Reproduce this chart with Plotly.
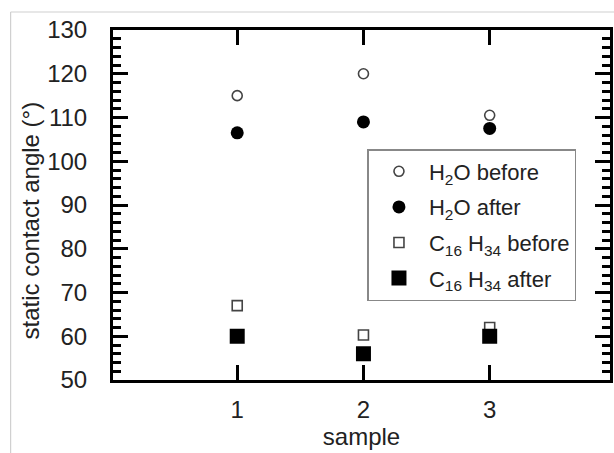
import plotly.graph_objects as go

samples = [1, 2, 3]
h2o_before = [115, 120, 110.5]
h2o_after = [106.5, 109, 107.5]
c16_before = [67, 60.3, 62]
c16_after = [60, 56, 60]

names = ["H<sub>2</sub>O before", "H<sub>2</sub>O after",
         "C<sub>16</sub> H<sub>34</sub> before", "C<sub>16</sub> H<sub>34</sub> after"]
y_title = "static contact angle (°)"
x_title = "sample"

W, H = 614, 453
L, R, T, B = 113, 613, 30, 380  # plot area pixel box

FAM = "Liberation Sans, Arial, sans-serif"

fig = go.Figure()
fig.add_trace(go.Scatter(x=samples, y=h2o_before, mode="markers", name=names[0], legendgroup="a",
                         marker=dict(symbol="circle-open", size=10, color="#444",
                                     line=dict(width=1.6, color="#444"))))
fig.add_trace(go.Scatter(x=samples, y=h2o_after, mode="markers", name=names[1], legendgroup="b",
                         marker=dict(symbol="circle", size=13, color="black")))
fig.add_trace(go.Scatter(x=samples, y=c16_before, mode="markers", name=names[2], legendgroup="c",
                         marker=dict(symbol="square-open", size=10, color="#444",
                                     line=dict(width=1.6, color="#444"))))
fig.add_trace(go.Scatter(x=samples, y=c16_after, mode="markers", name=names[3], legendgroup="d",
                         marker=dict(symbol="square", size=15, color="black")))

font = dict(family=FAM, size=24, color="#222")

def px_to_paper_x(px):
    return (px - L) / (R - L)

def px_to_paper_y(py):
    return (B - py) / (B - T)

fig.update_layout(
    width=W, height=H,
    margin=dict(l=L, r=W - R, t=T, b=H - B, pad=0),
    paper_bgcolor="white", plot_bgcolor="white",
    font=font,
    showlegend=True,
    legend=dict(x=px_to_paper_x(369), y=px_to_paper_y(149), xanchor="left", yanchor="top",
                bordercolor="#888", borderwidth=1.5, bgcolor="white",
                font=dict(family=FAM, size=22, color="#222"),
                itemsizing="trace", itemwidth=50, tracegroupgap=4),
    xaxis=dict(range=[0.016, 3.953], tickvals=samples, ticktext=[str(s) for s in samples],
               showgrid=False, zeroline=False, showline=True, linewidth=3, linecolor="black",
               mirror="ticks", ticks="inside", ticklen=15, tickwidth=3, tickcolor="black",
               ticklabelstandoff=6,
               title=dict(text=x_title, standoff=6, font=font)),
    yaxis=dict(range=[50, 130], tickvals=[50, 60, 70, 80, 90, 100, 110, 120, 130],
               showgrid=False, zeroline=False, showline=True, linewidth=3, linecolor="black",
               mirror="ticks", ticks="inside", ticklen=15, tickwidth=3, tickcolor="black",
               ticklabelstandoff=18,
               minor=dict(dtick=2, tick0=0, ticks="inside", ticklen=8, tickwidth=3,
                          tickcolor="black", showgrid=False)),
    annotations=[
        dict(text=y_title, xref="paper", yref="paper", x=px_to_paper_x(30), y=px_to_paper_y(220),
             xanchor="center", yanchor="middle", textangle=-90, showarrow=False, font=font),
    ],
    shapes=[
        dict(type="line", xref="paper", yref="paper",
             x0=px_to_paper_x(10), x1=px_to_paper_x(W + 5),
             y0=px_to_paper_y(12), y1=px_to_paper_y(12),
             line=dict(color="#d0d0d0", width=1.2)),
        dict(type="line", xref="paper", yref="paper",
             x0=px_to_paper_x(10), x1=px_to_paper_x(10),
             y0=px_to_paper_y(12), y1=px_to_paper_y(H + 5),
             line=dict(color="#d0d0d0", width=1.2)),
    ],
)

fig.write_html("out.html")
